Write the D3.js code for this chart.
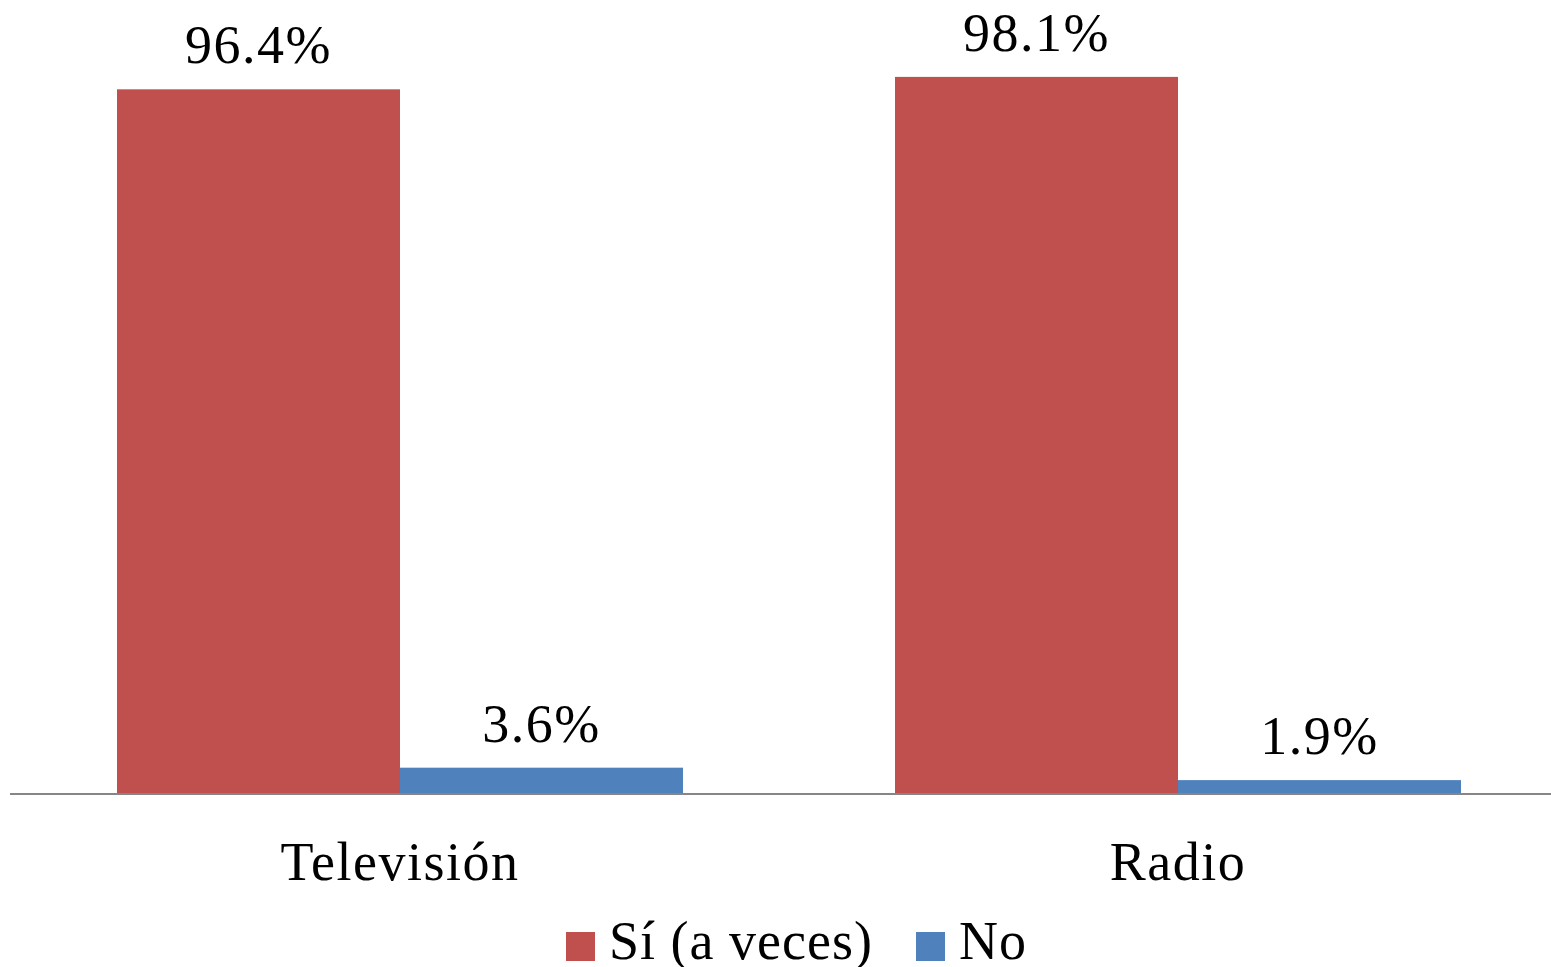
<!DOCTYPE html>
<html>
<head>
<meta charset="utf-8">
<script src="https://cdn.jsdelivr.net/npm/d3@7"></script>
<style>
  body { margin: 0; background: #fff; }
  text { font-family: "Liberation Serif", "DejaVu Serif", serif; fill: #000; }
</style>
</head>
<body>
<div id="chart"></div>
<script>
var categories = ["Televisión", "Radio"];
var series_names = ["Sí (a veces)", "No"];
var series_colors = ["#C0504D", "#4F81BD"];
var si_values = [96.4, 98.1];
var no_values = [3.6, 1.9];

var width = 1551, height = 967;
var font_size = "54px", spacing = "1.5px";

var svg = d3.select("#chart").append("svg")
    .attr("width", width)
    .attr("height", height);

var x = d3.scaleBand()
    .domain(categories)
    .range([11, 1567])
    .paddingInner(0)
    .paddingOuter(0);

var inner = d3.scaleBand()
    .domain(series_names)
    .range([106, x.bandwidth() - 106]);

var y = d3.scaleLinear()
    .domain([0, 100])
    .range([794, 63]);

var rows = [];
categories.forEach(function(c, i) {
    rows.push({cat: c, s: 0, v: si_values[i]});
    rows.push({cat: c, s: 1, v: no_values[i]});
});

var bars = svg.selectAll(".bar")
    .data(rows)
    .enter().append("g")
    .attr("transform", function(d) {
        return "translate(" + (x(d.cat) + inner(series_names[d.s])) + ",0)";
    });

bars.append("rect")
    .attr("y", function(d) { return y(d.v); })
    .attr("width", inner.bandwidth())
    .attr("height", function(d) { return y(0) - y(d.v); })
    .attr("fill", function(d) { return series_colors[d.s]; });

bars.append("text")
    .attr("x", inner.bandwidth() / 2)
    .attr("y", function(d) { return y(d.v) - 26; })
    .attr("text-anchor", "middle")
    .style("font-size", font_size)
    .style("letter-spacing", spacing)
    .text(function(d) { return d.v.toFixed(1) + "%"; });

// axis
var xAxis = svg.append("g")
    .attr("transform", "translate(0," + y(0) + ")")
    .call(d3.axisBottom(x).tickSize(0).tickPadding(0));
xAxis.select(".domain")
    .attr("d", "M10,0H1551")
    .attr("stroke", "#868686")
    .attr("stroke-width", 2);
xAxis.selectAll(".tick text")
    .attr("y", 86)
    .attr("dy", 0)
    .style("font-size", font_size)
    .style("letter-spacing", spacing)
    .style("font-family", "Liberation Serif, serif")
    .attr("fill", "#000");

// legend
var legend = svg.append("g").attr("class", "legend");
var legend_x = [566, 916];
series_names.forEach(function(name, i) {
    var g = legend.append("g").attr("transform", "translate(" + legend_x[i] + ",0)");
    g.append("rect")
        .attr("x", 0).attr("y", 932)
        .attr("width", 29).attr("height", 29)
        .attr("fill", series_colors[i]);
    g.append("text")
        .attr("x", 43).attr("y", 959)
        .style("font-size", font_size)
        .style("letter-spacing", "1px")
        .text(name);
});
</script>
</body>
</html>
